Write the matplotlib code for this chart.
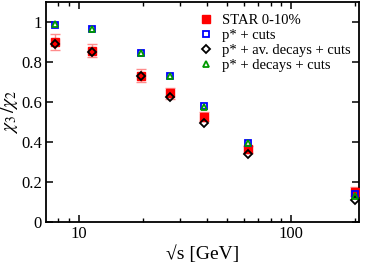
import numpy as np
import matplotlib
matplotlib.use("Agg")
import matplotlib.pyplot as plt
from matplotlib.ticker import FixedLocator, NullFormatter

plt.rcParams['font.family'] = ['Liberation Serif', 'DejaVu Serif']
plt.rcParams['mathtext.fontset'] = 'stix'

# collision energies
energy = [7.7, 11.5, 19.6, 27, 39, 62.4, 200]

star = [0.900, 0.857, 0.732, 0.643, 0.527, 0.363, 0.152]
star_err = [0.042, 0.034, 0.032, 0.028, 0.022, 0.018, 0.024]
pcuts = [0.987, 0.963, 0.846, 0.729, 0.580, 0.397, 0.138]
pav = [0.888, 0.848, 0.729, 0.626, 0.493, 0.338, 0.110]
pdec = [0.990, 0.964, 0.845, 0.728, 0.577, 0.393, 0.130]

yticks = [0, 0.2, 0.4, 0.6, 0.8, 1]
yticklabels = ['0', '0.2', '0.4', '0.6', '0.8', '1']

fig = plt.figure(figsize=(3.66, 2.63), dpi=100)
ax = fig.add_axes([0.126, 0.156, 0.855, 0.836])

ax.errorbar(energy, star, yerr=star_err, fmt='none', ecolor='#ff8c8c',
            elinewidth=1.0, capsize=3.5, capthick=1.0, zorder=2)
ax.plot(energy, star, 's', color='#ff0000', ms=5.5, mec='#ff0000',
        label='STAR 0-10%', zorder=3, linestyle='none')
ax.plot(energy, pcuts, 's', mfc='none', mec='#0000ff', mew=1.3, ms=4.6,
        label='p* + cuts', zorder=4, linestyle='none')
ax.plot(energy, pav, 'D', mfc='none', mec='#000000', mew=1.3, ms=4.0,
        label='p* + av. decays + cuts', zorder=5, linestyle='none')
ax.plot(energy, pdec, '^', mfc='none', mec='#009900', mew=1.3, ms=5.0,
        label='p* + decays + cuts', zorder=6, linestyle='none')

ax.set_xscale('log')
ax.set_xlim(7.0, 209)
ax.set_ylim(0, 1.1)
ax.xaxis.set_major_locator(FixedLocator([10, 100]))
ax.xaxis.set_minor_locator(FixedLocator([8, 9, 20, 30, 40, 50, 60, 70, 80, 90, 200]))
ax.xaxis.set_minor_formatter(NullFormatter())
ax.set_xticks([10, 100])
ax.set_xticklabels(['10', '100'])
ax.set_yticks(yticks)
ax.set_yticklabels(yticklabels)

ax.tick_params(which='major', direction='in', length=5, width=1.1,
               top=True, right=True, labelsize=12, pad=3)
ax.tick_params(which='minor', direction='in', length=3, width=1.0,
               top=True, right=True)
for s in ax.spines.values():
    s.set_linewidth(1.3)

ax.set_xlabel('√s [GeV]', fontsize=14, labelpad=2)
ax.set_ylabel(r'$\chi_3\,/\chi_2$', fontsize=14)
ax.yaxis.set_label_coords(-0.083, 0.5)

ax.legend(loc='upper right', frameon=False, fontsize=10.5, handlelength=1.0,
          handletextpad=0.6, labelspacing=0.12, borderaxespad=0.2,
          numpoints=1, bbox_to_anchor=(1.0, 0.985))

fig.savefig('out.png', dpi=100)
